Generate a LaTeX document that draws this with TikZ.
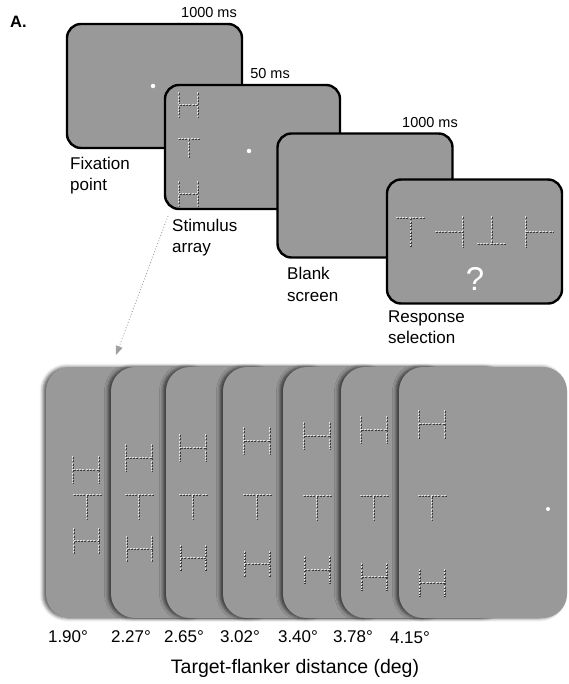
\documentclass[tikz,border=0pt]{standalone}
\usepackage{fontspec}
\setmainfont{Liberation Sans}
\usetikzlibrary{arrows.meta,shadows.blur}

\definecolor{scrgray}{RGB}{153,153,153}
\definecolor{cardgray}{RGB}{153,153,153}
\definecolor{strokedk}{RGB}{60,60,60}
\definecolor{strokelt}{RGB}{225,225,225}

\tikzset{
  screen/.style={draw=black, line width=2.4pt, fill=scrgray, rounded corners=14pt,
    minimum width=175pt, minimum height=124pt, inner sep=0pt, outer sep=0pt},
  card/.style={fill=cardgray, rounded corners=24pt, minimum width=168pt,
    minimum height=251pt, inner sep=0pt, outer sep=0pt,
    blur shadow={shadow xshift=-3pt, shadow yshift=0pt, shadow blur radius=3.5pt,
      shadow opacity=65}},
  lbl/.style={font=\fontsize{17}{21}\selectfont, anchor=base west, inner sep=0pt, align=left},
  timelbl/.style={font=\fontsize{14.5}{17}\selectfont, anchor=base east, inner sep=0pt},
  deglbl/.style={font=\fontsize{17}{19}\selectfont, anchor=base, inner sep=0pt},
  fixdot/.style={circle, fill=white, minimum size=4.5pt, inner sep=0pt},
  sdark/.style={draw=strokedk, line width=1.1pt, dash pattern=on 2pt off 1.3pt,
    xshift=0.5pt, yshift=-0.5pt},
  slight/.style={draw=strokelt, line width=0.8pt, dash pattern=on 2pt off 1.3pt,
    xshift=-0.5pt, yshift=0.5pt},
}

% one dashed stroke of a letter: dark line with a light line beside it
\newcommand\dstroke[2]{%
  \path[sdark] #1 -- #2;
  \path[slight] #1 -- #2;}
% H centred at (#1,#2), half width #3, half height #4
\newcommand\letterH[4]{%
  \dstroke{(#1-#3,#2-#4)}{(#1-#3,#2+#4)}%
  \dstroke{(#1+#3,#2-#4)}{(#1+#3,#2+#4)}%
  \dstroke{(#1-#3,#2)}{(#1+#3,#2)}}
% T with bar at height #2, centred on #1, half width #3, stem length #4
\newcommand\letterT[4]{%
  \dstroke{(#1-#3,#2)}{(#1+#3,#2)}%
  \dstroke{(#1,#2)}{(#1,#2+#4)}}

\begin{document}
\begin{tikzpicture}[x=1pt, y=-1pt]
\useasboundingbox (0,0) rectangle (568,684);

\node[font=\bfseries\fontsize{16.5}{18}\selectfont, anchor=base west, inner sep=0pt] (paneltag) at (10,28) {A.};

% ---- trial sequence ----
\node[screen] (fix) at (154.5,86) {};
\node[fixdot] (fixpt) at (153,86) {};
\node[timelbl] (t1) at (237,18) {1000 ms};
\node[lbl] (fixlbl) at (70,191) {Fixation\\point};

\node[screen] (stim) at (252.5,147) {};
\node[fixdot] (stimpt) at (249,151) {};
\node[timelbl] (t2) at (290,79) {50 ms};
\letterH{188.5}{105}{9.5}{12}
\letterT{189}{139}{11}{19}
\letterH{188.5}{194}{9.5}{12}
\node[lbl] (stimlbl) at (172,253) {Stimulus\\array};

\node[screen] (blank) at (365,195.5) {};
\node[timelbl] (t3) at (458,128) {1000 ms};
\node[lbl] (blanklbl) at (287,301) {Blank\\screen};

\node[screen] (resp) at (474.5,241.5) {};
\letterT{410.5}{218}{14.5}{29}
\dstroke{(435,232)}{(463,232)}\dstroke{(463,217)}{(463,247)}
\dstroke{(492,217)}{(492,244)}\dstroke{(477,244)}{(506,244)}
\dstroke{(526,217)}{(526,247)}\dstroke{(526,232)}{(553,232)}
\node[font=\fontsize{33}{36}\selectfont, text=white, inner sep=0pt] (qmark) at (475,279) {?};
\node[lbl] (resplbl) at (388,343) {Response\\selection};

% ---- zoomed-in arrays ----
\coordinate (zoomfrom) at (168,216);
\coordinate (zoomto) at (116,355);
\draw[gray!75, dotted, line width=0.9pt, -{Triangle[length=9pt,width=7pt]}] (zoomfrom) -- (zoomto);

\node[card] (c1) at (130,492.5) {};
\letterH{86}{470}{13}{13.5}\letterT{87}{495}{14}{24}\letterH{86.5}{541}{12.5}{12.5}
\node[card] (c2) at (195,492.5) {};
\letterH{139}{458}{13}{13.5}\letterT{139}{495}{14}{24}\letterH{139.5}{549}{12.5}{13}
\node[card] (c3) at (250,492.5) {};
\letterH{193}{448}{13}{13.5}\letterT{193}{495}{14}{24}\letterH{193}{558}{12.5}{13}
\node[card] (c4) at (307,492.5) {};
\letterH{257}{441}{13}{13.5}\letterT{257}{495}{14}{24}\letterH{257}{564}{12.5}{13}
\node[card] (c5) at (367,492.5) {};
\letterH{317}{436}{13}{13.5}\letterT{317}{496}{14}{24}\letterH{317}{570}{12.5}{13.5}
\node[card] (c6) at (425,492.5) {};
\letterH{374}{430}{13}{13.5}\letterT{374}{496}{14}{24}\letterH{374}{577}{12.5}{13.5}
\node[card] (c7) at (483,492.5) {};
\letterH{432}{424}{13}{14}\letterT{432}{496}{14}{24}\letterH{432}{583}{12.5}{13.5}
\node[fixdot, minimum size=4pt] (c7pt) at (548,509) {};

\node[deglbl] (d1) at (68,642) {1.90°};
\node[deglbl] (d2) at (131,642) {2.27°};
\node[deglbl] (d3) at (184,642) {2.65°};
\node[deglbl] (d4) at (240,642) {3.02°};
\node[deglbl] (d5) at (298,642) {3.40°};
\node[deglbl] (d6) at (353,642) {3.78°};
\node[deglbl] (d7) at (410,643) {4.15°};
\node[font=\fontsize{19.5}{22}\selectfont, anchor=base, inner sep=0pt] (axis) at (295,673) {Target-flanker distance (deg)};
\end{tikzpicture}
\end{document}
